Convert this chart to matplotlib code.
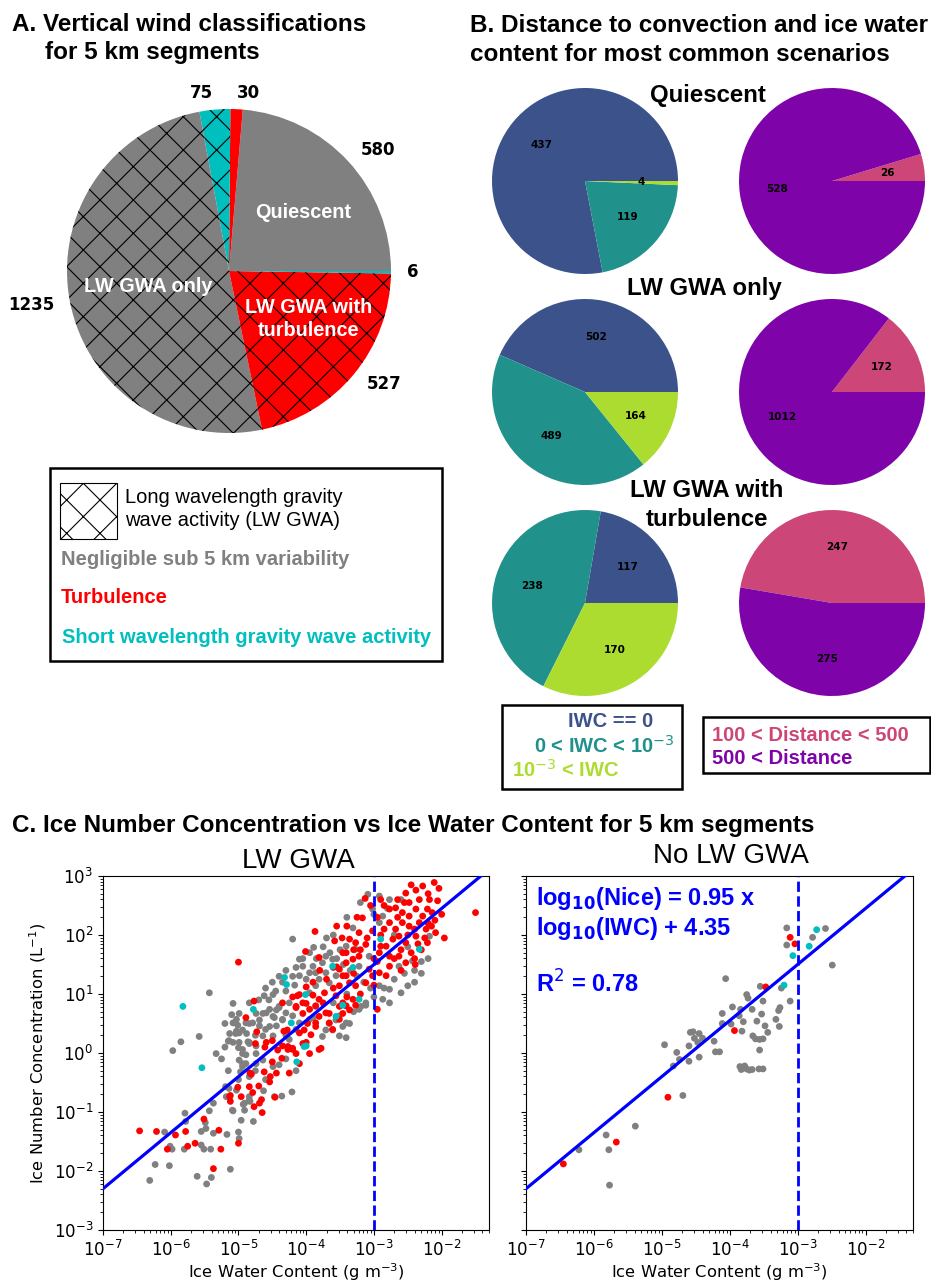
import numpy as np
import matplotlib.pyplot as plt
from matplotlib.patches import Rectangle

plt.rcParams['font.family'] = ['Liberation Sans', 'DejaVu Sans']
plt.rcParams['hatch.color'] = 'black'
plt.rcParams['hatch.linewidth'] = 0.8

GRAY, RED, CYAN = '#808080', '#ff0000', '#00bfbf'

# ---- A: vertical wind classes (counter-clockwise from 3 o'clock)
wind_counts = [580, 30, 75, 1235, 527, 6]
wind_colors = [GRAY, RED, CYAN, GRAY, RED, CYAN]
wind_hatches = ['', '', 'x', 'x', 'x', '']

# ---- B: IWC bins (==0, 0..1e-3, >1e-3) and distance bins (100-500, >500)
scenarios = ['Quiescent', 'LW GWA only', 'LW GWA with\nturbulence']
iwc_quiescent = [437, 119, 4]
iwc_lw_only = [502, 489, 164]
iwc_lw_turb = [117, 238, 170]
dist_quiescent = [26, 528]
dist_lw_only = [172, 1012]
dist_lw_turb = [247, 275]
iwc_colors = ['#3b528b', '#21918c', '#addc30']
dist_colors = ['#cc4778', '#7e03a8']

# ---- C: log10(IWC), log10(Nice)
fit_slope = 0.95
fit_intercept = 4.35
iwc_threshold = 1e-3

lw_gray = [(-6.31,-2.16), (-6.23,-1.89), (-6.02,-1.91), (-6.09,-1.34), (-6.01,-1.58), (-5.98,-1.63),
           (-5.80,-1.63), (-5.79,-1.02), (-5.78,-1.16), (-5.55,-1.33), (-5.48,-1.28), (-5.49,-1.18),
           (-5.37,-1.36), (-5.17,-1.38), (-5.00,-1.34), (-4.99,-1.45), (-5.55,-1.56), (-5.51,-1.63),
           (-5.41,-1.63), (-5.61,-2.09), (-5.40,-2.11), (-5.47,-2.22), (-5.12,-1.97), (-5.43,-0.98),
           (-5.37,-0.85), (-5.08,-0.98), (-4.96,-1.14), (-4.78,-1.16), (-4.93,-0.87), (-4.83,-0.82),
           (-5.18,-0.74), (-5.19,-0.57), (-5.03,-0.63), (-4.36,-0.73), (-4.21,-0.66), (-4.63,-0.64),
           (-5.85,0.19), (-5.58,0.28), (-5.97,0.04), (-5.33,-0.01), (-5.14,0.21), (-5.00,0.09),
           (-5.01,0.47), (-5.04,0.33), (-4.94,0.39), (-4.88,0.33), (-4.86,0.19), (-4.89,-0.03),
           (-4.94,-0.18), (-4.97,-0.32), (-5.14,-0.60), (-5.09,-0.97), (-4.84,-0.80), (-4.84,0.50),
           (-4.69,0.56), (-4.64,0.67), (-4.49,0.62), (-4.44,0.73), (-4.35,0.56), (-4.54,0.45),
           (-4.74,-0.01), (-4.94,-0.01), (-4.89,-0.18), (-4.84,-0.40), (-4.94,-0.23), (-4.91,-0.85),
           (-4.47,-0.74), (-3.71,0.39), (-3.76,0.28), (-3.66,0.50), (-3.56,0.56), (-3.61,0.39),
           (-3.46,0.45), (-3.36,0.50), (-3.19,0.79), (-3.12,0.81), (-3.86,0.79), (-4.40,0.79),
           (-4.74,0.67), (-4.20,1.93), (-3.89,1.79), (-5.43,1.02), (-5.08,0.51), (-4.84,0.85),
           (-4.79,0.51), (-4.62,0.97), (-4.49,0.99), (-4.54,0.74), (-4.40,0.77), (-4.30,0.68),
           (-4.25,0.85), (-4.10,1.31), (-4.00,1.25), (-3.95,1.36), (-3.86,1.36), (-3.81,1.25),
           (-3.71,1.64), (-3.71,1.36), (-3.61,1.59), (-3.41,1.81), (-4.30,1.05), (-4.17,1.15),
           (-4.99,0.34), (-4.89,0.51), (-4.69,0.46), (-4.99,0.18), (-4.84,0.18), (-5.15,0.20),
           (-5.03,0.37), (-4.44,0.46), (-4.49,0.29), (-4.35,0.57), (-4.10,0.51), (-3.95,0.57),
           (-4.25,0.23), (-3.09,2.69), (-2.92,2.66), (-2.77,2.60), (-2.60,2.60), (-3.02,2.44),
           (-2.87,2.32), (-3.31,2.12), (-2.92,2.21), (-3.27,1.76), (-3.22,1.47), (-3.07,1.64),
           (-2.92,1.14), (-2.77,1.08), (-2.87,0.91), (-2.77,0.85), (-2.60,1.02), (-2.50,1.14),
           (-2.63,1.47), (-2.43,1.56), (-3.51,0.63), (-3.41,0.51), (-3.51,0.29), (-3.41,0.26),
           (-3.22,0.74), (-3.12,0.85), (-2.18,1.98), (-4.10,1.59), (-4.05,1.47), (-3.90,1.47),
           (-3.76,1.53), (-3.95,1.02), (-3.66,1.19), (-3.56,1.31), (-3.86,1.14), (-4.59,0.68),
           (-4.47,0.60), (-4.20,0.63), (-4.64,0.29), (-4.74,0.12), (-5.08,0.18), (-5.03,0.57),
           (-4.94,0.06), (-5.08,0.84), (-4.99,0.67), (-5.13,0.33), (-4.84,0.16), (-4.99,-0.12),
           (-4.74,-0.18), (-4.64,-0.12), (-4.49,-0.23), (-4.84,-0.74), (-4.91,-0.97),
           (-4.60,1.10), (-4.50,1.20), (-4.40,1.30), (-4.30,1.40), (-4.70,0.90), (-4.55,0.90),
           (-4.45,1.05), (-4.35,1.20), (-4.20,1.30), (-4.15,1.45), (-4.05,1.60), (-3.95,1.70),
           (-3.85,1.60), (-3.75,1.80), (-3.65,1.70), (-3.55,1.60), (-3.45,1.50), (-3.35,1.40),
           (-3.25,1.30), (-3.15,1.20), (-3.05,1.10), (-3.30,0.70), (-3.00,0.95), (-2.85,1.10),
           (-2.70,1.25), (-2.55,1.35), (-2.40,1.40), (-2.30,1.55), (-3.40,1.00), (-3.60,0.85),
           (-3.90,0.60), (-4.15,0.40), (-4.30,0.30), (-4.60,0.40), (-4.75,0.30), (-5.20,0.50),
           (-5.10,0.65), (-5.20,0.10), (-5.25,-0.10), (-5.15,-0.30), (-5.00,-0.45), (-4.75,-0.30),
           (-4.60,-0.45), (-4.40,-0.20), (-4.30,-0.10), (-4.15,-0.30), (-3.40,2.30), (-3.20,2.55),
           (-3.00,2.35), (-2.80,2.45), (-2.70,2.00), (-2.50,1.80), (-2.40,1.20), (-2.30,1.35),
           (-2.20,1.60), (-3.60,2.00), (-3.70,1.95), (-3.50,1.75)]

lw_red = [(-6.46,-1.32), (-6.21,-1.33), (-5.93,-1.39), (-6.05,-1.63), (-5.78,-1.33), (-5.75,-1.58),
          (-5.64,-1.53), (-5.51,-1.12), (-5.29,-1.31), (-5.26,-1.63), (-5.37,-1.96), (-5.00,-1.53),
          (-5.12,-0.72), (-5.12,-0.82), (-4.96,-0.74), (-4.79,-0.67), (-4.66,-0.79), (-4.69,-0.85),
          (-4.77,-0.91), (-4.65,-1.01), (-4.46,-0.75), (-4.89,0.60), (-5.01,-0.58), (-4.84,-0.57),
          (-4.83,-0.34), (-4.73,0.36), (-4.75,0.16), (-4.59,0.18), (-4.50,0.21), (-4.42,0.05),
          (-4.36,-0.09), (-4.50,-0.15), (-4.81,-0.36), (-4.62,-0.32), (-4.53,-0.40), (-4.44,-0.34),
          (-4.54,-0.49), (-4.70,-0.56), (-4.25,-0.34), (-4.15,-0.01), (-4.10,-0.18), (-4.27,0.11),
          (-4.20,0.08), (-4.05,0.16), (-3.95,-0.01), (-3.93,0.31), (-4.03,0.39), (-3.98,0.50),
          (-3.86,0.45), (-3.78,0.08), (-4.05,0.67), (-4.15,0.79), (-4.00,0.84), (-3.81,0.62),
          (-3.66,0.67), (-3.51,0.79), (-3.46,0.67), (-3.36,0.73), (-3.27,0.81), (-5.13,-0.74),
          (-5.00,1.54), (-3.87,2.06), (-4.01,1.72), (-3.81,1.62), (-3.58,1.90), (-3.47,1.95),
          (-4.77,0.88), (-4.61,0.10), (-4.33,0.37), (-4.28,0.39), (-4.13,0.97), (-4.10,0.99),
          (-4.00,1.12), (-3.90,0.98), (-4.15,0.77), (-4.05,0.85), (-3.95,0.74), (-3.86,0.80),
          (-3.81,0.91), (-3.73,1.02), (-3.71,0.68), (-3.66,0.51), (-3.61,0.40), (-3.51,0.57),
          (-3.46,0.85), (-3.56,0.97), (-3.46,1.70), (-3.55,1.46), (-3.41,1.53), (-3.51,1.14),
          (-3.41,1.31), (-4.10,0.34), (-4.00,0.18), (-3.86,0.51), (-3.81,0.06), (-4.35,0.12),
          (-4.27,0.06), (-4.20,0.06), (-3.13,2.62), (-2.53,2.71), (-2.38,2.76), (-2.28,2.83),
          (-2.11,2.89), (-2.04,2.79), (-2.06,2.58), (-2.18,2.60), (-2.33,2.60), (-2.48,2.55),
          (-2.77,2.44), (-2.68,2.46), (-2.58,2.38), (-2.48,2.32), (-2.38,2.44), (-2.28,2.32),
          (-2.21,2.44), (-2.14,2.38), (-3.17,2.29), (-3.02,2.07), (-3.22,2.04), (-3.36,1.93),
          (-3.27,1.87), (-3.12,1.84), (-2.77,2.21), (-2.68,2.10), (-2.58,2.21), (-2.48,2.15),
          (-2.33,2.21), (-2.23,2.10), (-2.38,1.98), (-2.53,1.87), (-2.63,1.98), (-2.72,1.93),
          (-2.82,1.81), (-2.92,1.70), (-2.77,1.64), (-2.63,1.64), (-2.53,1.53), (-2.39,1.50),
          (-1.96,1.95), (-1.50,2.38), (-3.41,1.70), (-3.31,1.59), (-3.22,1.64), (-3.51,1.42),
          (-3.46,1.31), (-3.36,1.19), (-3.27,1.14), (-3.12,1.19), (-3.02,1.31), (-2.92,1.36),
          (-2.82,1.31), (-2.77,1.47), (-2.95,0.74), (-3.31,0.91), (-3.41,0.80), (-3.07,1.42),
          (-2.90,1.81), (-2.21,1.87), (-2.09,2.04), (-2.90,2.00), (-3.00,1.60), (-2.60,1.75),
          (-2.45,1.70), (-2.30,1.75), (-2.20,2.20), (-2.95,2.30), (-2.85,2.50), (-3.05,2.50),
          (-3.25,2.30), (-3.40,2.15), (-2.65,2.30), (-2.40,2.10), (-2.50,2.00), (-2.85,2.10),
          (-3.10,1.95), (-3.20,1.75), (-3.60,1.45), (-3.70,1.25), (-3.80,1.40), (-3.30,1.35),
          (-2.70,1.60), (-2.35,1.85), (-2.15,2.15), (-2.00,2.35), (-2.20,2.70), (-2.45,2.85),
          (-3.60,1.10), (-3.75,0.85), (-3.90,1.20), (-4.20,0.95), (-4.35,0.85), (-3.40,0.95),
          (-3.20,1.00), (-3.00,1.15), (-2.60,1.40), (-2.40,1.60), (-2.25,1.95), (-2.10,2.25),
          (-2.55,2.55), (-3.55,2.15), (-3.30,1.75), (-2.95,1.55), (-2.65,2.60), (-2.90,2.60)]

lw_cyan = [(-5.82,0.79), (-5.54,-0.25), (-4.78,0.74), (-4.22,0.51), (-4.14,-0.15), (-3.56,0.62),
           (-3.46,0.81), (-4.03,0.11), (-4.32,1.28), (-4.29,1.16), (-4.01,0.99), (-3.61,1.47),
           (-4.00,0.12), (-2.90,1.93), (-2.33,1.76), (-3.31,1.45), (-3.22,0.91)]

nolw_gray = [(-3.16,2.12), (-3.16,1.83), (-2.78,1.96), (-2.59,2.11), (-2.49,1.49), (-4.06,1.26),
             (-3.55,1.13), (-3.24,1.10), (-3.75,0.99), (-3.73,0.93), (-3.51,0.88), (-3.11,0.88),
             (-3.96,0.78), (-3.84,0.74), (-3.67,0.74), (-4.11,0.67), (-3.53,0.66), (-3.26,0.77),
             (-3.28,0.72), (-3.32,0.57), (-3.27,0.45), (-3.86,0.63), (-3.80,0.53), (-3.60,0.54),
             (-4.11,0.50), (-3.98,0.49), (-3.82,0.37), (-3.48,0.46), (-3.44,0.35), (-3.66,0.29),
             (-3.62,0.24), (-3.56,0.23), (-3.51,0.24), (-4.58,0.35), (-4.54,0.36), (-4.45,0.33),
             (-4.52,0.25), (-4.40,0.25), (-4.23,0.20), (-4.60,0.12), (-4.47,0.18), (-4.96,0.14),
             (-4.78,0.01), (-4.21,0.02), (-4.15,0.02), (-3.56,0.05), (-4.74,-0.11), (-4.60,-0.14),
             (-4.45,-0.07), (-4.83,-0.22), (-3.85,-0.23), (-3.78,-0.22), (-3.75,-0.27), (-3.83,-0.28),
             (-3.71,-0.29), (-3.67,-0.28), (-3.57,-0.27), (-3.51,-0.27), (-4.69,-0.72), (-5.39,-1.24),
             (-5.82,-1.39), (-6.22,-1.64), (-5.78,-1.64), (-5.77,-2.24)]
nolw_red = [(-3.11,1.96), (-3.04,1.85), (-3.47,1.12), (-3.93,0.38), (-4.91,-0.75), (-5.67,-1.51),
            (-6.45,-1.88)]
nolw_cyan = [(-2.72,2.09), (-2.83,1.81), (-3.07,1.65), (-3.20,1.15)]

W, H = 931, 1283
fig = plt.figure(figsize=(W / 100, H / 100), dpi=100)


def ftext(px, py, s, **kw):
    kw.setdefault('va', 'baseline')
    return fig.text(px / W, 1 - py / H, s, **kw)


def pie_axes(cx, cy, r):
    ax = fig.add_axes([(cx - r) / W, 1 - (cy + r) / H, 2 * r / W, 2 * r / H])
    return ax


def frame(x0, y0, x1, y1):
    fig.add_artist(Rectangle((x0 / W, 1 - y1 / H), (x1 - x0) / W, (y1 - y0) / H,
                             transform=fig.transFigure, fill=False, lw=1.8, ec='black'))


TB = dict(fontsize=17.5, weight='bold')

# ================= A =================
ftext(12, 31, 'A. Vertical wind classifications', **TB)
ftext(45, 59, 'for 5 km segments', **TB)

axA = pie_axes(229, 271, 162)
wedges, _ = axA.pie(wind_counts, colors=wind_colors, labels=[str(c) for c in wind_counts],
                    labeldistance=1.1, startangle=0,
                    textprops=dict(family='DejaVu Sans', weight='bold', fontsize=12))
for w, h in zip(wedges, wind_hatches):
    if h:
        w.set_hatch(h)
axA.set_xlim(-1, 1)
axA.set_ylim(-1, 1)

WB = dict(color='white', weight='bold', fontsize=14.3, ha='center')
ftext(303, 218, 'Quiescent', **WB)
ftext(148, 292, 'LW GWA only', **WB)
ftext(309, 313, 'LW GWA with', **WB)
ftext(309, 336, 'turbulence', **WB)

frame(50, 468, 442, 661)
fig.add_artist(Rectangle((60 / W, 1 - 539 / H), 57 / W, 56 / H, transform=fig.transFigure,
                         fill=False, hatch='x', lw=0.8, ec='black'))
ftext(125, 503, 'Long wavelength gravity', fontsize=14.5)
ftext(125, 526, 'wave activity (LW GWA)', fontsize=14.5)
ftext(61, 565, 'Negligible sub 5 km variability', color=GRAY, weight='bold', fontsize=14.5)
ftext(61, 603, 'Turbulence', color=RED, weight='bold', fontsize=14.5)
ftext(62, 643, 'Short wavelength gravity wave activity', color=CYAN, weight='bold', fontsize=14.5)

# ================= B =================
ftext(470, 32, 'B. Distance to convection and ice water', **TB)
ftext(470, 61, 'content for most common scenarios', **TB)

iwc_sets = [iwc_quiescent, iwc_lw_only, iwc_lw_turb]
dist_sets = [dist_quiescent, dist_lw_only, dist_lw_turb]
row_y = [181, 392, 603]
for vals_l, vals_r, cy in zip(iwc_sets, dist_sets, row_y):
    for vals, cols, cx in ((vals_l, iwc_colors, 585), (vals_r, dist_colors, 832)):
        ax = pie_axes(cx, cy, 93)
        tot = sum(vals)
        ax.pie(vals, colors=cols, startangle=0, pctdistance=0.6,
               autopct=lambda p, t=tot: f'{p * t / 100:.0f}',
               textprops=dict(family='DejaVu Sans', weight='bold', fontsize=7.5))
        ax.set_xlim(-1, 1)
        ax.set_ylim(-1, 1)

ST = dict(fontsize=17.3, weight='bold', ha='center')
ftext(708, 102, scenarios[0], **ST)
ftext(704, 295, scenarios[1], **ST)
ftext(707, 497, scenarios[2].split('\n')[0], **ST)
ftext(707, 526, scenarios[2].split('\n')[1], **ST)

frame(502, 705, 682, 789)
LB = dict(fontsize=14.5, weight='bold')
ftext(568, 727, 'IWC == 0', color=iwc_colors[0], **LB)
ftext(534, 753, r'0 < IWC < 10$^{-3}$', color=iwc_colors[1], **LB)
ftext(512, 777, r'10$^{-3}$ < IWC', color=iwc_colors[2], **LB)
frame(703, 717, 930, 773)
ftext(712, 741, '100 < Distance < 500', color=dist_colors[0], **LB)
ftext(712, 764, '500 < Distance', color=dist_colors[1], **LB)

# ================= C =================
ftext(12, 832, 'C. Ice Number Concentration vs Ice Water Content for 5 km segments', **TB)

axL = fig.add_axes([103 / W, 1 - 1230 / H, 386 / W, 354 / H])
axR = fig.add_axes([526 / W, 1 - 1230 / H, 387 / W, 354 / H])
panels = [(axL, lw_gray, lw_red, lw_cyan), (axR, nolw_gray, nolw_red, nolw_cyan)]
for ax, g, r, c in panels:
    for pts, col in ((g, GRAY), (r, RED), (c, CYAN)):
        a = 10 ** np.array(pts)
        ax.scatter(a[:, 0], a[:, 1], s=24, c=col, edgecolors='none', zorder=2)
    xs = np.array([1e-7, 5e-2])
    ax.plot(xs, 10 ** (fit_slope * np.log10(xs) + fit_intercept), color='blue', lw=2.3, zorder=3)
    ax.axvline(iwc_threshold, color='blue', ls='--', lw=2, zorder=3)
    ax.set_xscale('log')
    ax.set_yscale('log')
    ax.set_xlim(1e-7, 5e-2)
    ax.set_ylim(1e-3, 1e3)
    ax.tick_params(labelsize=12, labelfontfamily='DejaVu Sans')
    ax.set_xlabel('Ice Water Content (g m$^{-3}$)', fontsize=11.8, family='DejaVu Sans',
                  labelpad=1)
axR.tick_params(labelleft=False)
axL.set_ylabel('Ice Number Concentration (L$^{-1}$)', fontsize=11.8, family='DejaVu Sans')

ftext(298, 868, 'LW GWA', fontsize=20, ha='center')
ftext(731, 863, 'No LW GWA', fontsize=20, ha='center')

AB = dict(color='blue', weight='bold', fontsize=17)
ftext(536, 905, r'log$_{\mathbf{10}}$(Nice) = 0.95 x', **AB)
ftext(536, 935, r'log$_{\mathbf{10}}$(IWC) + 4.35', **AB)
ftext(536, 993, r'R$^{2}$ = 0.78', **AB)

fig.savefig('out.png', dpi=100)
